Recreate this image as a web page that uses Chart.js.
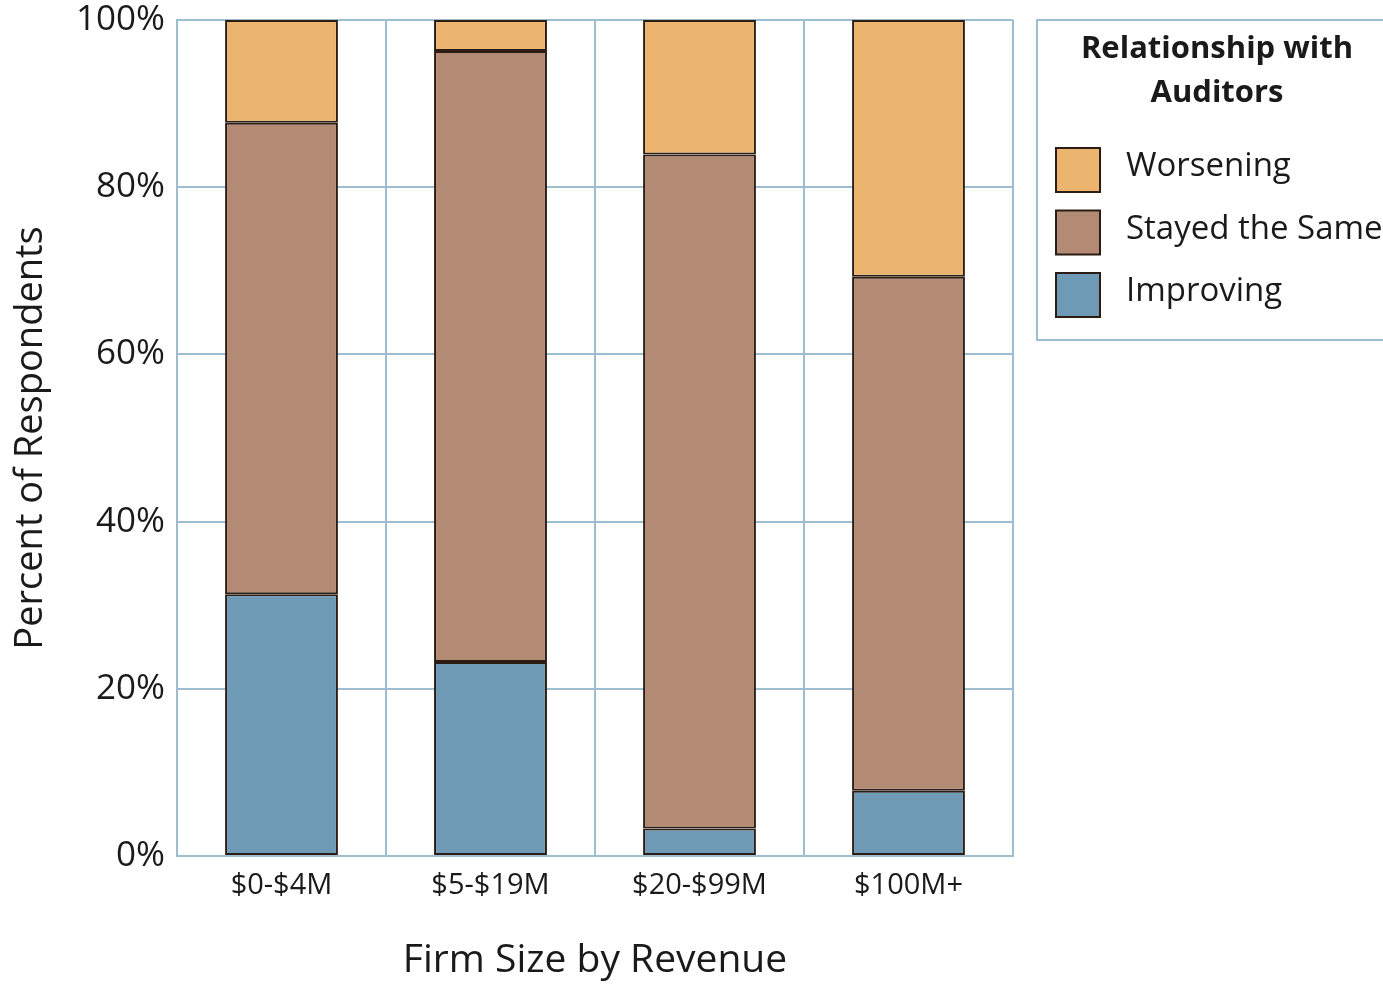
<!DOCTYPE html>
<html>
<head>
<meta charset="utf-8">
<script src="https://cdn.jsdelivr.net/npm/chart.js@4.4.1/dist/chart.umd.min.js"></script>
<style>
  html, body { margin: 0; padding: 0; background: #ffffff; }
  #wrap { width: 1383px; height: 984px; position: relative; }
</style>
</head>
<body>
<div id="wrap"><canvas id="c" width="1383" height="984"></canvas></div>
<script>
// Firm size categories (x axis)
const categories = ['$0-$4M', '$5-$19M', '$20-$99M', '$100M+'];

// Share of respondents per category, in percent (stacked to 100)
const improving = [31.3, 23.2, 3.3, 7.8];
const stayedSame = [56.4, 73.1, 80.6, 61.5];
const worsening = [12.3, 3.7, 16.1, 30.7];

// Y axis ticks
const yTicks = [0, 20, 40, 60, 80, 100];

const legendTitle = ['Relationship with', 'Auditors'];
const FONT = '"Open Sans", "Noto Sans", sans-serif';
const GRID = '#9fbdd0';
const EDGE = '#2b1d14';

// Boxed legend drawn to the right of the plot
const boxedLegend = {
  id: 'boxedLegend',
  afterDraw(chart) {
    const ctx = chart.ctx;
    const area = chart.chartArea;
    const left = area.right + 24;
    const top = area.top;
    ctx.save();
    ctx.strokeStyle = GRID;
    ctx.lineWidth = 2;
    ctx.strokeRect(left, top, 400, 320);

    ctx.fillStyle = '#1a1a1a';
    ctx.textAlign = 'center';
    ctx.textBaseline = 'middle';
    ctx.font = 'bold 31px ' + FONT;
    legendTitle.forEach((line, i) => ctx.fillText(line, left + 180, top + 29 + i * 44));

    const items = chart.data.datasets.slice().reverse();
    ctx.textAlign = 'left';
    ctx.font = '33px ' + FONT;
    items.forEach((ds, i) => {
      const y = top + 128 + i * 62.5;
      ctx.fillStyle = ds.backgroundColor;
      ctx.fillRect(left + 19, y, 44, 44);
      ctx.strokeStyle = EDGE;
      ctx.lineWidth = 2;
      ctx.strokeRect(left + 19, y, 44, 44);
      ctx.fillStyle = '#1a1a1a';
      ctx.fillText(ds.label, left + 89, y + 19);
    });
    ctx.restore();
  }
};

const barStyle = {
  borderColor: EDGE,
  borderWidth: 2,
  borderSkipped: false,
  categoryPercentage: 1.0,
  barPercentage: 0.54
};

new Chart(document.getElementById('c'), {
  type: 'bar',
  data: {
    labels: categories,
    datasets: [
      Object.assign({ label: 'Improving', data: improving, backgroundColor: '#6f9ab6' }, barStyle),
      Object.assign({ label: 'Stayed the Same', data: stayedSame, backgroundColor: '#b38a74' }, barStyle),
      Object.assign({ label: 'Worsening', data: worsening, backgroundColor: '#ebb570' }, barStyle)
    ]
  },
  options: {
    responsive: false,
    animation: false,
    layout: { padding: { top: 20, right: 370, left: 0, bottom: 0 } },
    plugins: {
      legend: { display: false },
      tooltip: { enabled: false }
    },
    scales: {
      x: {
        stacked: true,
        grid: { color: GRID, lineWidth: 2, offset: true, drawTicks: false },
        border: { color: GRID, width: 2 },
        ticks: { color: '#1a1a1a', font: { family: FONT, size: 29 }, padding: 12 },
        title: { display: true, text: 'Firm Size by Revenue', color: '#1a1a1a',
                 font: { family: FONT, size: 39 }, padding: { top: 26, bottom: 0 } },
        afterFit(scale) {
          scale.height = 128;
          scale.paddingLeft = 0;
          scale.paddingRight = 0;
        }
      },
      y: {
        stacked: true,
        min: 0,
        max: 100,
        afterBuildTicks(scale) { scale.ticks = yTicks.map(v => ({ value: v })); },
        grid: { color: GRID, lineWidth: 2, drawTicks: false },
        border: { color: GRID, width: 2 },
        ticks: { color: '#1a1a1a', font: { family: FONT, size: 35 }, padding: 12,
                 callback: v => v + '%' },
        title: { display: true, text: 'Percent of Respondents', color: '#1a1a1a',
                 font: { family: FONT, size: 38 }, padding: { top: 8, bottom: 0 } },
        afterFit(scale) {
          scale.width = 177;
          scale.paddingTop = 0;
          scale.paddingBottom = 0;
        }
      }
    }
  },
  plugins: [boxedLegend]
});
</script>
</body>
</html>
